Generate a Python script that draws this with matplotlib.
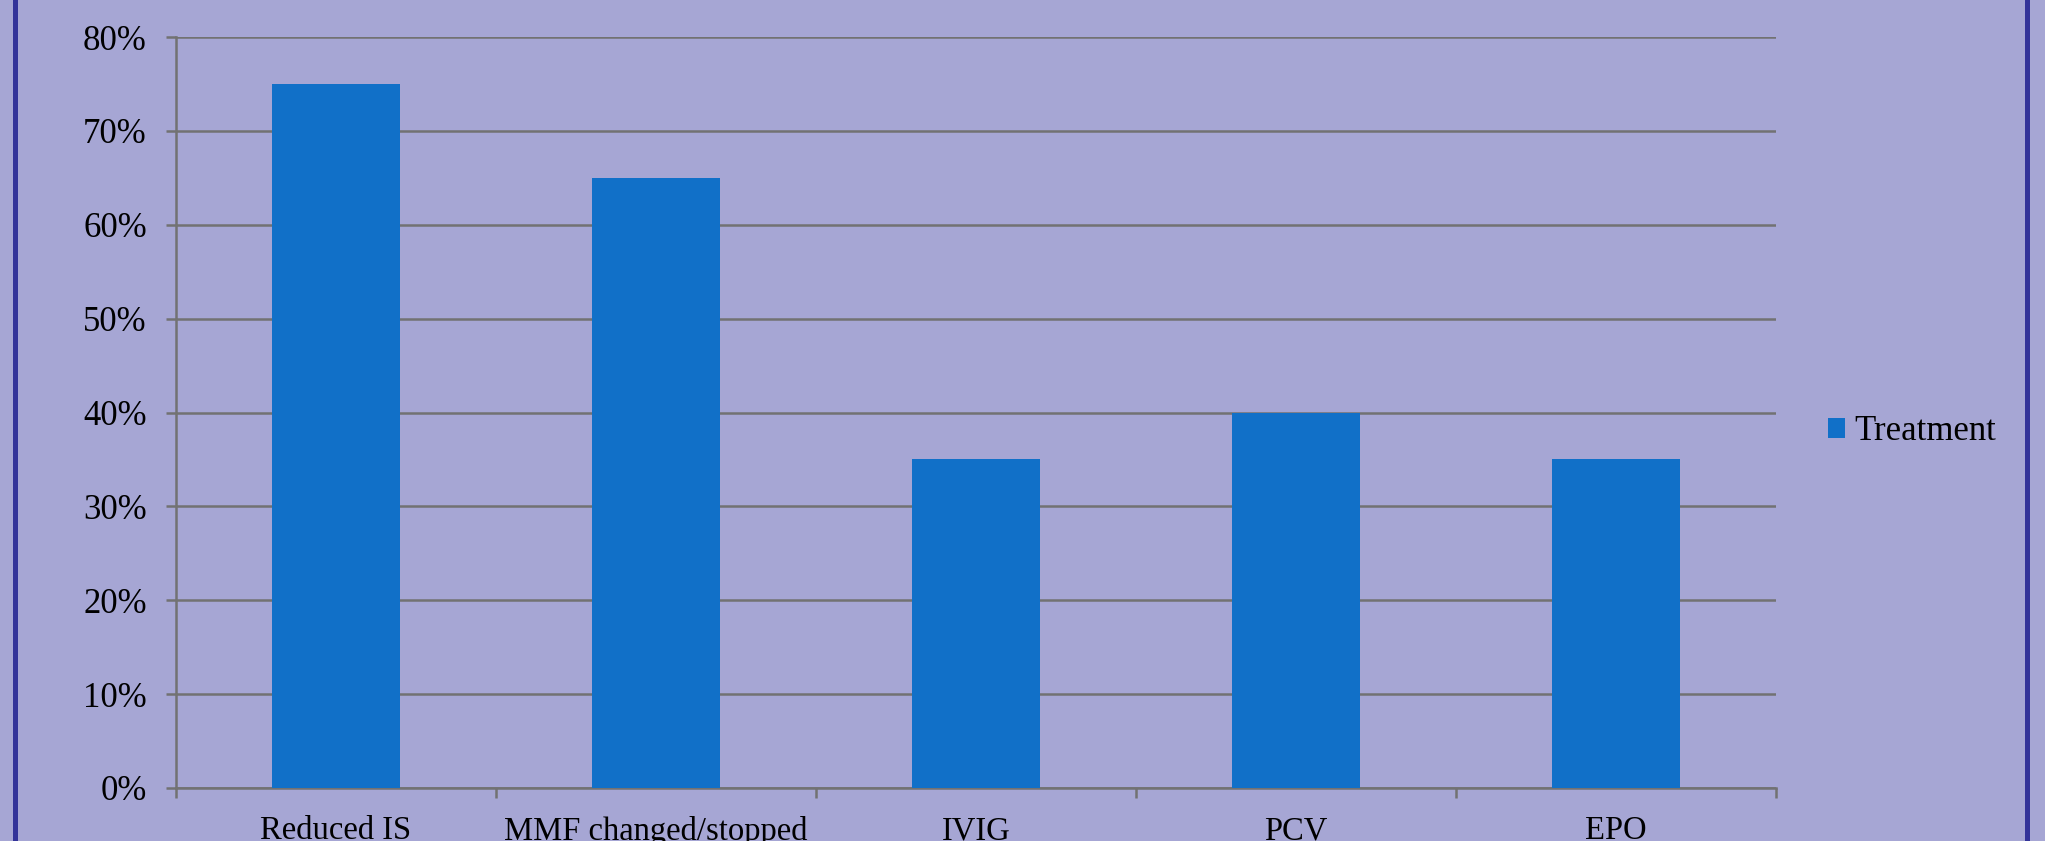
import numpy as np
import matplotlib
matplotlib.use("Agg")
import matplotlib.pyplot as plt
from matplotlib.lines import Line2D
from matplotlib.ticker import FuncFormatter

# data
categories = ["Reduced IS", "MMF changed/stopped", "IVIG", "PCV", "EPO"]
treatment = [0.75, 0.65, 0.35, 0.40, 0.35]
series_name = "Treatment"

bg = "#A6A6D4"
bar_col = "#1170C8"
grid_col = "#727272"
border_col = "#333399"

W, H = 2045, 841
fig = plt.figure(figsize=(W / 100, H / 100), dpi=100, facecolor=bg)
plt.rcParams["font.family"] = ["Liberation Serif", "DejaVu Serif"]

ax = fig.add_axes([176 / W, 1 - 788 / H, 1600 / W, (788 - 37) / H])
ax.set_facecolor(bg)

x = np.arange(len(categories))
ax.bar(x, treatment, width=0.4, color=bar_col, label=series_name, zorder=3)

ax.set_xlim(-0.5, len(categories) - 0.5)
ax.set_ylim(0, 0.8)
ax.set_yticks(np.arange(0, 0.81, 0.1))
ax.yaxis.set_major_formatter(FuncFormatter(lambda v, p: f"{v * 100:.0f}%"))
ax.grid(axis="y", color=grid_col, linewidth=1.8, zorder=1)

ax.set_xticks(x)
ax.set_xticklabels(categories, fontsize=23.5)
ax.set_xticks(np.arange(-0.5, len(categories)), minor=True)
ax.tick_params(axis="x", which="major", length=0, pad=20)
ax.tick_params(axis="x", which="minor", length=7, width=1.8, color=grid_col, direction="out")
ax.tick_params(axis="y", length=7, width=1.8, color=grid_col, pad=14, labelsize=25)

for s in ["top", "right"]:
    ax.spines[s].set_visible(False)
for s in ["left", "bottom"]:
    ax.spines[s].set_color(grid_col)
    ax.spines[s].set_linewidth(1.8)

leg = fig.legend(loc="center left", bbox_to_anchor=(1828 / W, 1 - 432 / H),
                 frameon=False, fontsize=25, handlelength=0.5, handleheight=0.5,
                 handletextpad=0.25, borderpad=0, borderaxespad=0)

# slide border lines on both sides
fig.add_artist(Line2D([14.5 / W, 14.5 / W], [0, 1], color=border_col, linewidth=3.6))
fig.add_artist(Line2D([2027 / W, 2027 / W], [0, 1], color=border_col, linewidth=3.6))

fig.savefig("out.png", dpi=100, facecolor=bg)
